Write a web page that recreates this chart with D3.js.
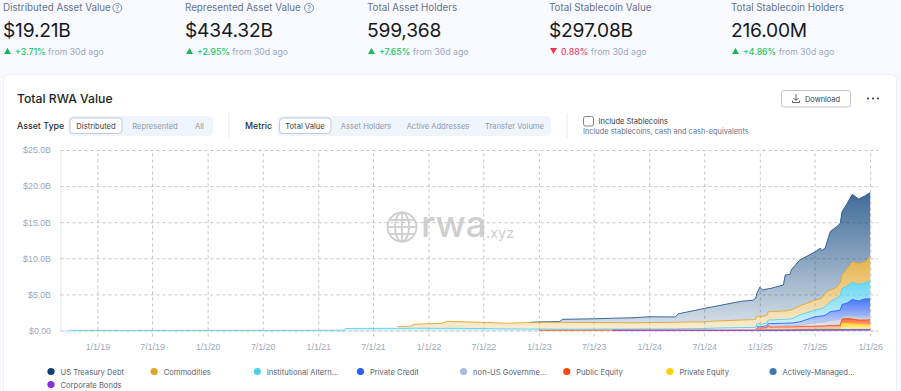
<!DOCTYPE html>
<html>
<head>
<meta charset="utf-8">
<script src="https://cdn.jsdelivr.net/npm/d3@7"></script>
<style>
    html, body { margin: 0; padding: 0; background: #f8faff; overflow: hidden; }
    svg { display: block; font-family: Inter, "Noto Sans", sans-serif; }
</style>
</head>
<body>
<svg></svg>
<script>
const kpiLabels = ["Distributed Asset Value", "Represented Asset Value", "Total Asset Holders", "Total Stablecoin Value", "Total Stablecoin Holders"];
const kpiValues = ["$19.21B", "$434.32B", "599,368", "$297.08B", "216.00M"];
const kpiDeltas = ["+3.71%", "+2.95%", "+7.65%", "0.88%", "+4.86%"];
const assetTypes = ["Distributed", "Represented", "All"];
const metrics = ["Total Value", "Asset Holders", "Active Addresses", "Transfer Volume"];

const xTickLabels = ["1/1/19", "7/1/19", "1/1/20", "7/1/20", "1/1/21", "7/1/21", "1/1/22", "7/1/22", "1/1/23", "7/1/23", "1/1/24", "7/1/24", "1/1/25", "7/1/25", "1/1/26"];
const yTicks = [0, 5, 10, 15, 20, 25];
const yTickLabels = ["$0.00", "$5.0B", "$10.0B", "$15.0B", "$20.0B", "$25.0B"];

const seriesNames = ["US Treasury Debt", "Commodities", "Institutional Altern...", "Private Credit", "non-US Governme...", "Public Equity", "Private Equity", "Actively-Managed...", "Corporate Bonds"];
const seriesColors = ["#0f3d70", "#e0a526", "#4dcff0", "#2a5ef5", "#a9bedb", "#ff4a12", "#ffd000", "#3f78b0", "#8b2be2"];
const areaColors = ["#1d5186", "#e0a526", "#4dcff0", "#2a5ef5", "#a9bedb", "#ff4a12", "#ffd000", "#3f78b0", "#8b2be2"];

const dates = ["10/1/18", "1/1/21", "3/28/21", "3/31/21", "9/18/21", "9/20/21", "11/6/21", "11/10/21", "2/15/22", "3/2/22", "7/1/22", "9/16/22", "12/1/22", "1/1/23", "3/10/23", "3/20/23", "7/1/23", "9/1/23", "11/1/23", "1/1/24", "3/28/24", "4/5/24", "7/1/24", "8/15/24", "11/1/24", "12/10/24", "12/18/24", "12/22/24", "1/1/25", "1/10/25", "1/25/25", "1/29/25", "2/3/25", "3/20/25", "3/26/25", "4/10/25", "4/16/25", "5/13/25", "7/3/25", "7/20/25", "7/25/25", "8/5/25", "8/22/25", "9/13/25", "9/24/25", "9/30/25", "10/17/25", "11/3/25", "11/24/25", "12/17/25", "1/1/26"];

// $B per series, one value per date
const usTreasury = [0, 0, 0, 0, 0, 0, 0, 0, 0, 0, 0, 0, 0.02, 0.06, 0.1, 0.42, 0.52, 0.6, 0.7, 0.8, 0.75, 1.15, 1.85, 2.1, 2.6, 2.7, 2.9, 3.1, 4.1, 3.65, 3.65, 3.2, 3.2, 3.6, 5.0, 4.9, 5.6, 6.35, 6.7, 7.0, 6.6, 6.25, 8.1, 8.4, 8.25, 8.75, 9.0, 9.36, 8.9, 9.2, 8.8];
const commodities = [0, 0, 0, 0, 0, 0.25, 0.3, 0.53, 0.7, 0.97, 0.86, 0.78, 0.9, 0.93, 0.95, 0.95, 0.92, 0.9, 0.85, 0.88, 0.91, 0.92, 0.93, 0.97, 1.04, 1.08, 1.13, 1.1, 1.0, 1.05, 1.05, 1.15, 1.15, 1.15, 1.15, 1.25, 1.25, 1.25, 1.36, 1.4, 1.45, 1.85, 1.6, 1.5, 1.7, 1.9, 2.4, 2.8, 2.9, 2.9, 3.4];
const institutional = [0.02, 0.03, 0.04, 0.28, 0.3, 0.3, 0.3, 0.32, 0.3, 0.3, 0.27, 0.22, 0.2, 0.17, 0.15, 0.15, 0.15, 0.15, 0.15, 0.17, 0.17, 0.18, 0.22, 0.3, 0.36, 0.37, 0.37, 0.37, 0.37, 0.35, 0.4, 0.44, 0.5, 0.55, 0.55, 0.57, 0.57, 0.95, 0.94, 1.0, 1.0, 1.2, 1.4, 1.75, 2.06, 2.2, 2.4, 2.4, 2.3, 2.2, 2.55];
const privateCredit = [0, 0, 0, 0, 0, 0, 0, 0, 0, 0, 0, 0, 0, 0, 0, 0, 0, 0, 0, 0, 0, 0, 0, 0, 0, 0, 0, 0.09, 0.09, 0.1, 0.15, 0.2, 0.35, 0.35, 0.35, 0.38, 0.38, 0.48, 0.8, 0.85, 0.85, 0.9, 1.2, 1.25, 1.24, 1.75, 1.8, 2.3, 2.2, 2.5, 2.35];
const nonUsGov = [0, 0, 0, 0, 0, 0, 0, 0, 0, 0, 0, 0, 0, 0, 0, 0, 0, 0, 0, 0, 0, 0, 0, 0, 0, 0, 0, 0.09, 0.09, 0.1, 0.1, 0.1, 0.14, 0.15, 0.15, 0.15, 0.15, 0.17, 0.5, 0.53, 0.53, 0.55, 0.7, 0.78, 0.85, 0.25, 0.35, 0.4, 0.45, 0.45, 0.5];
const publicEquity = [0, 0, 0, 0, 0, 0, 0, 0, 0, 0, 0, 0, 0, 0.03, 0.03, 0.03, 0.03, 0.02, 0.02, 0.02, 0.02, 0.02, 0.02, 0.02, 0.02, 0.02, 0.02, 0.27, 0.27, 0.27, 0.3, 0.6, 0.35, 0.37, 0.37, 0.36, 0.36, 0.38, 0.4, 0.42, 0.42, 0.45, 0.48, 0.48, 0.5, 0.6, 0.65, 0.65, 0.6, 0.65, 0.75];
const privateEquity = [0, 0, 0, 0, 0, 0, 0, 0, 0, 0, 0, 0, 0, 0, 0, 0, 0, 0, 0, 0, 0, 0, 0, 0, 0, 0, 0, 0.03, 0.03, 0.03, 0.04, 0.05, 0.05, 0.06, 0.06, 0.07, 0.07, 0.08, 0.1, 0.1, 0.1, 0.1, 0.11, 0.12, 0.12, 0.87, 0.87, 0.8, 0.7, 0.65, 0.6];
const activelyManaged = [0, 0, 0, 0, 0, 0, 0, 0, 0, 0, 0, 0, 0, 0, 0, 0, 0, 0, 0, 0, 0, 0, 0, 0, 0, 0, 0, 0.02, 0.02, 0.02, 0.03, 0.03, 0.03, 0.04, 0.04, 0.04, 0.04, 0.05, 0.06, 0.06, 0.06, 0.06, 0.07, 0.08, 0.08, 0.08, 0.08, 0.1, 0.1, 0.1, 0.1];
const corporateBonds = [0, 0, 0, 0, 0, 0, 0, 0, 0, 0, 0, 0, 0, 0, 0, 0, 0, 0.03, 0.03, 0.03, 0.03, 0.03, 0.03, 0.03, 0.03, 0.03, 0.03, 0.03, 0.03, 0.03, 0.03, 0.03, 0.03, 0.03, 0.03, 0.03, 0.03, 0.04, 0.04, 0.04, 0.04, 0.04, 0.04, 0.04, 0.05, 0.05, 0.05, 0.05, 0.05, 0.05, 0.05];

const seriesValues = [usTreasury, commodities, institutional, privateCredit, nonUsGov, publicEquity, privateEquity, activelyManaged, corporateBonds];

const width = 901;
const height = 391;
const parseDate = d3.timeParse("%m/%d/%y");
const muted = "#9aa8c0";
const slate = "#66738a";

const svg = d3.select("svg").attr("width", width).attr("height", height);
const defs = svg.append("defs");

// top row of numbers
const kpiX = [3, 185, 367, 549, 731];
const kpi = svg.selectAll("g.kpi").data(kpiLabels).join("g")
    .attr("class", "kpi")
    .attr("transform", (d, i) => `translate(${kpiX[i]},0)`);
kpi.append("text").attr("y", 11).attr("font-size", 9.8).attr("fill", slate).text(d => d);
kpi.append("text").attr("y", 37).attr("font-size", 19.2).attr("letter-spacing", -0.2).attr("fill", "#16181d").text((d, i) => kpiValues[i]);
kpi.append("path")
    .attr("d", (d, i) => kpiDeltas[i][0] === "+" ? "M1,54 L4.5,48 L8,54 Z" : "M1,48 L8,48 L4.5,54 Z")
    .attr("fill", (d, i) => kpiDeltas[i][0] === "+" ? "#16b85a" : "#f0354b");
const delta = kpi.append("text").attr("x", 12).attr("y", 54.5).attr("font-size", 8.7);
delta.append("tspan").attr("font-weight", 500)
    .attr("fill", (d, i) => kpiDeltas[i][0] === "+" ? "#22c55e" : "#f43f5e")
    .text((d, i) => kpiDeltas[i]);
delta.append("tspan").attr("fill", muted).text(" from 30d ago");

[117.3, 309].forEach(x => {
    svg.append("circle").attr("cx", x).attr("cy", 8).attr("r", 4.5)
        .attr("fill", "none").attr("stroke", slate).attr("stroke-width", 0.8);
    svg.append("text").attr("x", x).attr("y", 10.5).attr("text-anchor", "middle")
        .attr("font-size", 7).attr("fill", slate).text("?");
});

// card
svg.append("rect").attr("x", 3.5).attr("y", 74.5).attr("width", 893).attr("height", 330).attr("rx", 5)
    .attr("fill", "#fff").attr("stroke", "#eef0f5");
svg.append("text").attr("x", 17).attr("y", 103).attr("font-size", 12.2).attr("font-weight", 500).attr("fill", "#1c1f26").text("Total RWA Value");

function toggleGroup(label, labelX, x0, x1, activeX0, activeX1, items, itemX) {
    svg.append("text").attr("x", labelX).attr("y", 129).attr("font-size", 8.8).attr("font-weight", 500).attr("fill", "#2a2e37").text(label);
    svg.append("rect").attr("x", x0).attr("y", 116).attr("width", x1 - x0).attr("height", 20).attr("rx", 5).attr("fill", "#f0f4fc");
    svg.append("rect").attr("x", activeX0).attr("y", 118).attr("width", activeX1 - activeX0).attr("height", 15.5).attr("rx", 3.5)
        .attr("fill", "#fff").attr("stroke", "#c3cbd8");
    svg.selectAll(null).data(items).join("text")
        .attr("x", (d, i) => itemX[i]).attr("y", 128.5).attr("text-anchor", "middle")
        .attr("font-size", 7.6).attr("fill", (d, i) => i === 0 ? "#3a3f4a" : "#8e99ab").text(d => d);
}
toggleGroup("Asset Type", 17, 68, 213, 70, 122, assetTypes, [96, 155, 199.5]);
toggleGroup("Metric", 245, 277, 551, 279.5, 331, metrics, [305, 366, 438, 514.5]);

[229, 567].forEach(x => svg.append("line").attr("x1", x).attr("x2", x).attr("y1", 113).attr("y2", 138).attr("stroke", "#e6e9ef"));

svg.append("rect").attr("x", 583.5).attr("y", 116.5).attr("width", 10).attr("height", 9.5).attr("rx", 2)
    .attr("fill", "#fff").attr("stroke", "#7d8694");
svg.append("text").attr("x", 598.5).attr("y", 123.5).attr("font-size", 7.5).attr("fill", "#333842").text("Include Stablecoins");
svg.append("text").attr("x", 583).attr("y", 134).attr("font-size", 7.4).attr("fill", slate).text("Include stablecoins, cash and cash-equivalents");

svg.append("rect").attr("x", 781.5).attr("y", 90.5).attr("width", 69).attr("height", 16.5).attr("rx", 2.5)
    .attr("fill", "#fff").attr("stroke", "#c3c8d0");
svg.append("path").attr("d", "M796,94 V100 M793.5,98 L796,100.5 L798.5,98 M792.5,100.5 V102.5 H799.5 V100.5")
    .attr("fill", "none").attr("stroke", "#4a4f59").attr("stroke-width", 0.9);
svg.append("text").attr("x", 805).attr("y", 102).attr("font-size", 7.4).attr("fill", "#3a3f4a").text("Download");
[868, 873, 878].forEach(x => svg.append("circle").attr("cx", x).attr("cy", 98.5).attr("r", 1).attr("fill", "#2a2e37"));

// scales
const x = d3.scaleTime()
    .domain([parseDate("9/1/18"), parseDate("1/27/26")])
    .range([60.5, 878]);
const y = d3.scaleLinear().domain([0, 25]).range([330.5, 150]);

// watermark
const mark = svg.append("g").attr("fill", "none").attr("stroke", "#cfcfcf").attr("stroke-width", 1.8);
mark.append("circle").attr("cx", 402).attr("cy", 227).attr("r", 14.5);
mark.append("ellipse").attr("cx", 402).attr("cy", 227).attr("rx", 7).attr("ry", 14.5);
mark.append("line").attr("x1", 402).attr("x2", 402).attr("y1", 212.5).attr("y2", 241.5);
[-7, 0, 7].forEach(d => mark.append("line").attr("x1", 402 - Math.sqrt(210 - d * d)).attr("x2", 402 + Math.sqrt(210 - d * d)).attr("y1", 227 + d).attr("y2", 227 + d));
svg.append("text").attr("x", 421).attr("y", 237).attr("font-size", 36.5).attr("font-weight", 500).attr("fill", "#cfcfcf").text("rwa");
svg.append("text").attr("x", 486).attr("y", 238).attr("font-size", 14.5).attr("fill", "#cfcfcf").text(".xyz");

// axes and grid go under the translucent areas
const xAxis = g => g
    .attr("transform", `translate(0,${y(0)})`)
    .call(d3.axisBottom(x)
        .tickValues(xTickLabels.map(parseDate))
        .tickFormat((d, i) => xTickLabels[i])
        .tickSizeOuter(0)
        .tickPadding(7))
    .call(g => g.select(".domain").attr("stroke", "#e3e7f0"))
    .call(g => g.selectAll(".tick line")
        .attr("y1", 6)
        .attr("y2", y(25) - y(0))
        .attr("stroke", "#c4c4c4")
        .attr("stroke-dasharray", "3,3"))
    .call(g => g.selectAll(".tick text").attr("fill", muted).attr("font-size", 8.8).attr("font-family", null));

const yAxis = g => g
    .attr("transform", "translate(60.5,0)")
    .call(d3.axisLeft(y)
        .tickValues(yTicks)
        .tickFormat((d, i) => yTickLabels[i])
        .tickSizeOuter(0)
        .tickPadding(3.5))
    .call(g => g.select(".domain").attr("stroke", "#e3e7f0"))
    .call(g => g.selectAll(".tick line")
        .attr("x1", 0)
        .attr("x2", x.range()[1] - 60.5)
        .attr("stroke", "#c4c4c4")
        .attr("stroke-dasharray", "3,3"))
    .call(g => g.selectAll(".tick text").attr("fill", muted).attr("font-size", 8.8).attr("font-family", null));

svg.append("g").call(xAxis);
svg.append("g").call(yAxis);

// stack: first series in the legend sits on top
const rows = dates.map((d, i) => {
    const row = { date: parseDate(d) };
    seriesNames.forEach((n, s) => { row[n] = seriesValues[s][i]; });
    return row;
});
const stacked = d3.stack().keys(seriesNames).order(d3.stackOrderReverse)(rows);

const area = d3.area()
    .defined(d => d[1] > d[0])
    .x(d => x(d.data.date))
    .y0(d => y(d[0]))
    .y1(d => y(d[1]));
const line = d3.line()
    .defined(d => d[1] > d[0])
    .x(d => x(d.data.date))
    .y(d => y(d[1]));

stacked.forEach(s => {
    const color = areaColors[seriesNames.indexOf(s.key)];
    const gradient = defs.append("linearGradient").attr("id", `grad${s.index}`)
        .attr("x1", 0).attr("x2", 0).attr("y1", 0).attr("y2", 1);
    gradient.append("stop").attr("offset", "0%").attr("stop-color", color).attr("stop-opacity", 0.85);
    gradient.append("stop").attr("offset", "100%").attr("stop-color", color).attr("stop-opacity", 0.2);
});

const layers = svg.selectAll("g.layer").data(stacked).join("g").attr("class", "layer");
layers.append("path")
    .attr("fill", d => `url(#grad${d.index})`)
    .attr("d", area);
layers.append("path")
    .attr("fill", "none")
    .attr("stroke", d => areaColors[seriesNames.indexOf(d.key)])
    .attr("stroke-opacity", 0.85)
    .attr("stroke-width", 1)
    .attr("d", line);

// legend
const legend = svg.selectAll("g.legend").data(seriesNames).join("g")
    .attr("class", "legend")
    .attr("transform", (d, i) => `translate(${51 + (i % 8) * 103.15},${i < 8 ? 371.5 : 384.5})`);
legend.append("circle").attr("r", 3.6).attr("fill", (d, i) => seriesColors[i]);
legend.append("text").attr("x", 9.5).attr("y", 3).attr("font-size", 7.6).attr("fill", "#5a6475").text(d => d);
</script>
</body>
</html>
